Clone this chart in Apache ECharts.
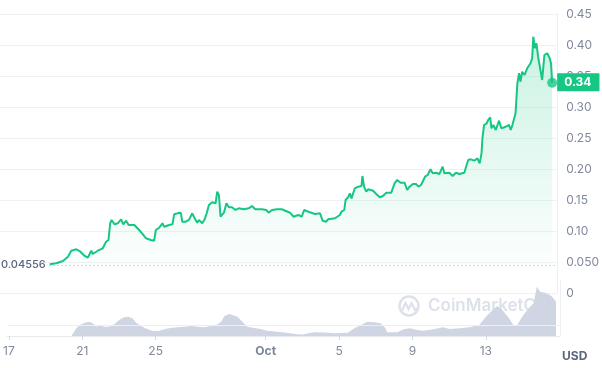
<!DOCTYPE html>
<html>
<head>
<meta charset="utf-8">
<script src="https://cdn.jsdelivr.net/npm/echarts@6/dist/echarts.min.js"></script>
<style>html,body{margin:0;padding:0;background:#fff}#c{width:602px;height:368px}</style>
</head>
<body>
<div id="c"></div>
<script>
// Day numbers: September day-of-month, continuing past 30 into October (31 = Oct 1)
const priceDays = [19.60,19.96,20.32,20.59,20.77,21.04,21.22,21.49,21.66,21.85,21.93,22.20,22.47,22.65,22.78,22.87,22.95,23.10,23.28,23.46,23.58,23.73,23.87,24.18,24.44,24.62,24.81,25.07,25.25,25.34,25.52,25.70,25.79,26.06,26.24,26.33,26.50,26.69,26.77,26.96,27.13,27.31,27.44,27.58,27.67,27.85,27.98,28.09,28.21,28.39,28.57,28.66,28.75,28.84,29.02,29.16,29.29,29.46,29.65,29.82,30.09,30.36,30.54,30.72,31.08,31.31,31.44,31.62,31.88,32.15,32.34,32.60,32.78,33.05,33.23,33.36,33.59,33.95,34.22,34.36,34.54,34.66,35.03,35.29,35.38,35.53,35.60,35.74,35.83,35.92,36.10,36.28,36.46,36.51,36.60,36.72,36.82,37.09,37.26,37.45,37.62,37.80,38.07,38.25,38.39,38.58,38.79,38.93,39.06,39.24,39.41,39.54,39.68,39.90,40.04,40.19,40.31,40.49,40.67,40.85,40.94,41.21,41.39,41.57,41.75,41.84,42.02,42.10,42.23,42.37,42.56,42.73,42.85,42.95,43.00,43.09,43.23,43.31,43.42,43.49,43.59,43.72,43.90,44.02,44.26,44.44,44.53,44.62,44.79,44.89,44.98,45.06,45.15,45.28,45.42,45.51,45.60,45.69,45.75,45.84,45.92,46.01,46.11,46.23,46.35,46.50,46.64,46.71,46.77];
const priceValues = [0.0463,0.0479,0.0516,0.0585,0.0682,0.0705,0.0677,0.0597,0.0569,0.0682,0.0629,0.0682,0.0721,0.0827,0.0855,0.1124,0.1177,0.1108,0.1124,0.1189,0.1108,0.1166,0.1097,0.1097,0.1016,0.0952,0.0882,0.0855,0.0844,0.1016,0.1053,0.1124,0.1069,0.1097,0.1108,0.1269,0.1285,0.1295,0.1150,0.1150,0.1180,0.1285,0.1205,0.1134,0.1177,0.1124,0.1189,0.1285,0.1419,0.1463,0.1447,0.1634,0.1581,0.1231,0.1295,0.1447,0.1382,0.1382,0.1339,0.1366,0.1350,0.1366,0.1403,0.1350,0.1350,0.1339,0.1295,0.1339,0.1350,0.1350,0.1327,0.1295,0.1231,0.1258,0.1231,0.1339,0.1311,0.1274,0.1285,0.1166,0.1150,0.1189,0.1205,0.1258,0.1311,0.1339,0.1500,0.1544,0.1608,0.1527,0.1689,0.1715,0.1726,0.1887,0.1715,0.1634,0.1673,0.1650,0.1597,0.1544,0.1565,0.1618,0.1618,0.1769,0.1823,0.1779,0.1779,0.1661,0.1715,0.1758,0.1758,0.1715,0.1742,0.1876,0.1903,0.1995,0.1931,0.1940,0.1919,0.2037,0.1931,0.1940,0.1887,0.1940,0.1919,0.1903,0.1940,0.1931,0.2145,0.2156,0.2134,0.2173,0.2090,0.2253,0.2495,0.2710,0.2737,0.2790,0.2834,0.2656,0.2710,0.2629,0.2779,0.2656,0.2682,0.2710,0.2629,0.2710,0.2898,0.3382,0.3544,0.3408,0.3569,0.3516,0.3624,0.3608,0.3705,0.3785,0.4134,0.3947,0.4027,0.3811,0.3839,0.3435,0.3839,0.3866,0.3785,0.3700,0.3392];

const volumeDays = [20.41,20.68,20.86,21.13,21.39,21.58,21.76,21.93,22.20,22.47,22.74,23.01,23.28,23.51,23.73,23.91,24.18,24.44,24.81,25.16,25.52,25.88,26.24,26.60,26.96,27.31,27.67,28.03,28.39,28.57,28.75,29.02,29.19,29.46,29.73,30.00,30.36,30.72,31.08,31.62,32.15,32.69,33.05,33.32,33.68,34.22,34.76,35.47,35.83,36.19,36.55,36.91,37.26,37.53,37.62,38.16,38.52,38.87,39.24,39.60,40.14,40.67,41.03,41.57,42.10,42.64,43.00,43.36,43.63,43.90,44.26,44.53,44.71,44.98,45.33,45.60,45.78,45.96,46.23,46.50,46.68,46.82];
const volumeValues = [0,7.7,11,13.3,14.3,12.7,9.3,11,9.3,9.3,11.7,16,18.7,19.3,17.7,13.7,10.3,7.7,5.3,5,7,8.3,8.7,9.3,10,9.3,8.7,10.3,11.7,14.3,20,22,21,19.3,14.3,9.3,8,7,5.3,4.3,3.3,1.7,1.5,2.7,3.7,3.5,2.7,3.3,7.7,11,14.3,13.7,12.7,7.7,3.7,3.7,6.7,7.7,6,5.3,6.7,8.7,7,7.7,8.7,11,19.3,26,30,26,17.7,10,11,19.3,27.7,32.7,49.3,44.3,43.3,41,37.7,34.3];

const xTickDays = [17,21,25,31,35,39,43];
const xTickLabels = ['17','21','25','Oct','5','9','13'];
const yTickLabels = ['0','0.050','0.10','0.15','0.20','0.25','0.30','0.35','0.40','0.45'];
const refPrice = 0.04556;
const refLabel = '0.04556';
const lastLabel = '0.34';
const volumeGuide = 11;

const xMin = 16.914, xMax = 47.04;
const green = '#16c784';
const labelColor = '#808a9d';
const gridColor = '#eff2f5';

const pricePts = priceDays.map((d, i) => [d, priceValues[i]]);
const volPts = volumeDays.map((d, i) => [d, volumeValues[i]]);
const lastPt = pricePts[pricePts.length - 1];

const chart = echarts.init(document.getElementById('c'), null, {renderer: 'canvas'});
chart.setOption({
  animation: false,
  textStyle: {fontFamily: 'Inter'},
  grid: [
    {left: 0, right: 42, top: 14, height: 279},
    {left: 0, right: 42, top: 280, height: 56}
  ],
  xAxis: [
    {type: 'value', gridIndex: 0, min: xMin, max: xMax, show: false, splitLine: {show: false}},
    {type: 'value', gridIndex: 1, min: xMin, max: xMax,
      splitLine: {show: false},
      axisLine: {show: true, lineStyle: {color: '#e6e9ee'}},
      axisTick: {show: true, customValues: xTickDays, length: 4, lineStyle: {color: '#d5d9e0'}},
      axisLabel: {
        customValues: xTickDays, margin: 9, color: labelColor, fontSize: 12, fontFamily: 'Inter',
        formatter: v => {
          const i = xTickDays.indexOf(Math.round(v));
          const t = i >= 0 ? xTickLabels[i] : '';
          return t === 'Oct' ? '{b|' + t + '}' : t;
        },
        rich: {b: {fontWeight: 'bold', color: '#7b8599', fontSize: 12, fontFamily: 'Inter'}}
      }
    }
  ],
  yAxis: [
    {type: 'value', gridIndex: 0, position: 'right', min: 0, max: 0.45, interval: 0.05,
      axisLine: {show: true, lineStyle: {color: '#eceff3'}},
      axisTick: {show: false},
      splitLine: {show: true, lineStyle: {color: gridColor, width: 1}},
      axisLabel: {
        margin: 9, color: labelColor, fontSize: 12, fontFamily: 'Inter',
        formatter: v => yTickLabels[Math.round(v / 0.05)] || ''
      }
    },
    {type: 'value', gridIndex: 1, position: 'right', min: 0, max: 56,
      axisLine: {show: true, lineStyle: {color: '#eceff3'}},
      axisTick: {show: false}, axisLabel: {show: false}, splitLine: {show: false}
    }
  ],
  graphic: [
    {type: 'circle', z: 0, shape: {cx: 409, cy: 306, r: 9.5}, style: {fill: 'none', stroke: '#dde2ea', lineWidth: 2.5}},
    {type: 'polyline', z: 0, shape: {points: [[402, 311], [405.5, 303], [408.5, 309], [411.5, 303], [415, 310], [417, 308]]}, style: {fill: 'none', stroke: '#dde2ea', lineWidth: 2.2}},
    {type: 'text', z: 0, left: 428, top: 297, style: {text: 'CoinMarketCap', fill: '#dde2ea', font: '600 17px Inter'}},
    {type: 'text', left: 562, top: 350, style: {text: 'USD', fill: '#58667e', font: 'bold 12px Inter'}}
  ],
  series: [
    {
      type: 'line', xAxisIndex: 1, yAxisIndex: 1, data: volPts, z: 3,
      symbol: 'none', lineStyle: {width: 0}, silent: true,
      areaStyle: {color: '#cfd5e3', opacity: 1},
      markLine: {
        silent: true, symbol: ['none', 'none'], label: {show: false},
        lineStyle: {color: '#eceff3', type: 'solid', width: 1},
        data: [{yAxis: volumeGuide}]
      }
    },
    {
      type: 'line', xAxisIndex: 0, yAxisIndex: 0, data: pricePts, z: 4,
      symbol: 'none', silent: true,
      lineStyle: {color: green, width: 2},
      areaStyle: {
        origin: refPrice,
        color: new echarts.graphic.LinearGradient(0, 0, 0, 1, [
          {offset: 0, color: 'rgba(22,199,132,0.32)'},
          {offset: 1, color: 'rgba(22,199,132,0.02)'}
        ])
      },
      markLine: {
        silent: true, symbol: ['none', 'none'],
        data: [
          [
            {coord: [priceDays[0], refPrice], lineStyle: {color: '#a9b2c2', type: [1, 3], width: 1},
              label: {show: true, position: 'start', distance: 4, formatter: refLabel, color: '#58667e', fontSize: 11, fontFamily: 'Inter', fontWeight: 500}},
            {coord: [xMax - 0.12, refPrice]}
          ],
          {yAxis: lastPt[1], lineStyle: {color: 'rgba(0,0,0,0)', width: 0},
            label: {show: true, position: 'end', distance: 0, formatter: lastLabel, color: '#fff', fontWeight: 'bold', fontSize: 12, fontFamily: 'Inter',
              backgroundColor: green, padding: [3, 8, 3, 7], borderRadius: 1}}
        ]
      }
    },
    {
      type: 'scatter', xAxisIndex: 0, yAxisIndex: 0, data: [lastPt], z: 5, silent: true,
      symbolSize: 10, itemStyle: {color: green}
    }
  ]
});
</script>
</body>
</html>
